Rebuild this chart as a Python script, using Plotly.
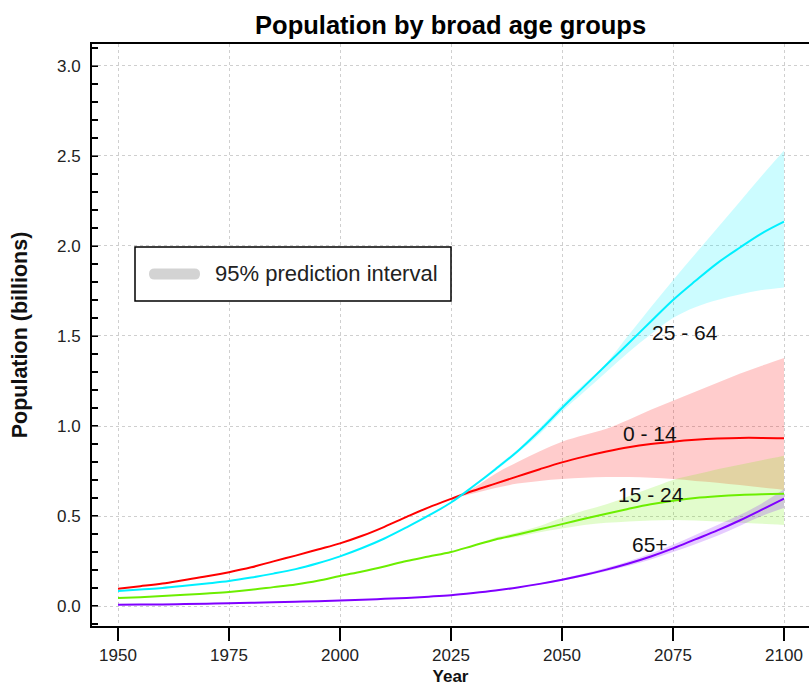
import plotly.graph_objects as go

# ---- data (billions) ----
years = [1950, 1955, 1960, 1965, 1970, 1975, 1980, 1985, 1990, 1995,
         2000, 2005, 2010, 2015, 2020, 2025, 2030, 2035, 2040, 2045,
         2050, 2055, 2060, 2065, 2070, 2075, 2080, 2085, 2090, 2095, 2100]

age_0_14 = [0.096, 0.110, 0.125, 0.145, 0.165, 0.188, 0.215, 0.248, 0.280, 0.314,
            0.348, 0.390, 0.440, 0.495, 0.548, 0.595, 0.640, 0.680, 0.720, 0.760,
            0.798, 0.830, 0.858, 0.882, 0.900, 0.913, 0.923, 0.930, 0.934, 0.934, 0.932]
age_25_64 = [0.083, 0.092, 0.100, 0.112, 0.125, 0.139, 0.158, 0.180, 0.205, 0.238,
             0.276, 0.322, 0.375, 0.437, 0.503, 0.575, 0.665, 0.760, 0.860, 0.975,
             1.100, 1.220, 1.340, 1.460, 1.580, 1.700, 1.805, 1.905, 1.990, 2.070, 2.135]
age_15_24 = [0.044, 0.049, 0.055, 0.062, 0.070, 0.078, 0.090, 0.105, 0.120, 0.140,
             0.167, 0.192, 0.220, 0.250, 0.275, 0.300, 0.335, 0.370, 0.397, 0.426,
             0.455, 0.485, 0.513, 0.540, 0.565, 0.585, 0.600, 0.610, 0.617, 0.621, 0.623]
age_65p = [0.007, 0.008, 0.009, 0.011, 0.013, 0.015, 0.018, 0.021, 0.024, 0.027,
           0.031, 0.035, 0.040, 0.045, 0.052, 0.060, 0.072, 0.086, 0.103, 0.123,
           0.146, 0.172, 0.202, 0.236, 0.275, 0.320, 0.370, 0.420, 0.475, 0.535, 0.597]

# 95% prediction intervals (projection years only)
pi_years = [2025, 2030, 2035, 2040, 2045, 2050, 2055, 2060, 2065, 2070,
            2075, 2080, 2085, 2090, 2095, 2100]
lo_0_14 = [0.595, 0.625, 0.655, 0.680, 0.695, 0.705, 0.712, 0.716, 0.716, 0.712,
           0.705, 0.695, 0.685, 0.672, 0.658, 0.645]
hi_0_14 = [0.595, 0.655, 0.735, 0.800, 0.860, 0.913, 0.950, 0.985, 1.035, 1.090,
           1.140, 1.190, 1.240, 1.290, 1.335, 1.378]
lo_25_64 = [0.575, 0.660, 0.750, 0.850, 0.955, 1.080, 1.190, 1.300, 1.410, 1.510,
            1.600, 1.660, 1.700, 1.730, 1.755, 1.770]
hi_25_64 = [0.575, 0.670, 0.770, 0.870, 0.990, 1.120, 1.235, 1.350, 1.505, 1.660,
            1.810, 1.955, 2.100, 2.245, 2.390, 2.530]
lo_15_24 = [0.300, 0.335, 0.365, 0.385, 0.410, 0.430, 0.450, 0.462, 0.470, 0.475,
            0.478, 0.475, 0.470, 0.463, 0.457, 0.450]
hi_15_24 = [0.300, 0.335, 0.380, 0.410, 0.445, 0.490, 0.530, 0.565, 0.610, 0.655,
            0.700, 0.730, 0.760, 0.785, 0.810, 0.835]
lo_65p = [0.060, 0.071, 0.085, 0.101, 0.120, 0.141, 0.165, 0.193, 0.224, 0.259,
          0.300, 0.343, 0.390, 0.445, 0.500, 0.545]
hi_65p = [0.060, 0.073, 0.088, 0.106, 0.127, 0.152, 0.180, 0.212, 0.249, 0.292,
          0.340, 0.395, 0.450, 0.505, 0.570, 0.648]

groups = [
    ("0 - 14", age_0_14, lo_0_14, hi_0_14, "#FF0000", "rgba(255,0,0,0.2)", 2069.8, 0.957),
    ("25 - 64", age_25_64, lo_25_64, hi_25_64, "#00F0FF", "rgba(0,240,255,0.2)", 2077.6, 1.517),
    ("15 - 24", age_15_24, lo_15_24, hi_15_24, "#6CEE00", "rgba(108,238,0,0.2)", 2070.0, 0.622),
    ("65+", age_65p, lo_65p, hi_65p, "#8000FF", "rgba(128,0,255,0.2)", 2069.8, 0.339),
]

FONT = "Liberation Sans, Arial, sans-serif"

# plot-area geometry in pixels (used to place the legend box in paper units)
W, H = 809, 686
ML, MR, MT, MB = 92, 0, 44, 60
PW, PH = W - ML - MR, H - MT - MB


def px(xp):
    return (xp - ML) / PW


def py(yp):
    return (H - MB - yp) / PH


fig = go.Figure()

# interval bands
for name, mid, lo, hi, col, fill, lx, ly in groups:
    fig.add_trace(go.Scatter(x=pi_years, y=lo, mode="lines",
                             line=dict(width=0, shape="spline"),
                             hoverinfo="skip", showlegend=False))
    fig.add_trace(go.Scatter(x=pi_years, y=hi, mode="lines", fill="tonexty",
                             fillcolor=fill, line=dict(width=0, shape="spline"),
                             hoverinfo="skip", showlegend=False))

# median lines
for name, mid, lo, hi, col, fill, lx, ly in groups:
    fig.add_trace(go.Scatter(x=years, y=mid, mode="lines", name=name,
                             line=dict(color=col, width=2, shape="spline"),
                             showlegend=False))

# group labels
for name, mid, lo, hi, col, fill, lx, ly in groups:
    fig.add_annotation(x=lx, y=ly, text=name, showarrow=False,
                       font=dict(family=FONT, size=21, color="#111"),
                       xanchor="center", yanchor="middle")

# legend box for the prediction interval
fig.add_shape(type="rect", xref="paper", yref="paper",
              x0=px(135), x1=px(451), y0=py(301), y1=py(247),
              line=dict(color="#000", width=1.5), fillcolor="white", layer="above")
x0, x1, yc, r = 149, 200, 274, 5.5
rx, ry = r / PW, r / PH
path = (f"M {px(x0)+rx},{py(yc)+ry} L {px(x1)-rx},{py(yc)+ry} "
        f"Q {px(x1)},{py(yc)+ry} {px(x1)},{py(yc)} "
        f"Q {px(x1)},{py(yc)-ry} {px(x1)-rx},{py(yc)-ry} "
        f"L {px(x0)+rx},{py(yc)-ry} "
        f"Q {px(x0)},{py(yc)-ry} {px(x0)},{py(yc)} "
        f"Q {px(x0)},{py(yc)+ry} {px(x0)+rx},{py(yc)+ry} Z")
fig.add_shape(type="path", xref="paper", yref="paper", path=path,
              fillcolor="#D3D3D3", line=dict(width=0), layer="above")
fig.add_annotation(xref="paper", yref="paper", x=px(213), y=py(273),
                   text="95% prediction interval", showarrow=False,
                   xanchor="left", yanchor="middle",
                   font=dict(family=FONT, size=22, color="#222"))

fig.update_layout(
    width=W, height=H,
    margin=dict(l=ML, r=MR, t=MT, b=MB),
    paper_bgcolor="white", plot_bgcolor="white",
    title=dict(text="<b>Population by broad age groups</b>",
               x=0.557, xanchor="center", y=0.963, yanchor="middle",
               font=dict(family=FONT, size=25.5, color="#000")),
    font=dict(family=FONT, color="#222"),
    showlegend=False,
)

fig.update_xaxes(
    range=[1944.14, 2105.63], tickvals=[1950, 1975, 2000, 2025, 2050, 2075, 2100],
    showgrid=True, gridcolor="#CFCFCF", griddash="3px,3px", gridwidth=1,
    showline=True, linecolor="#000", linewidth=2, mirror=True,
    ticks="outside", ticklen=13, tickwidth=1.5, tickcolor="#000",
    tickfont=dict(family=FONT, size=17, color="#222"),
    title=dict(text="<b>Year</b>", font=dict(family=FONT, size=17, color="#111"),
               standoff=9),
    zeroline=False,
)
fig.update_yaxes(
    range=[-0.111, 3.122], tickvals=[0, 0.5, 1.0, 1.5, 2.0, 2.5, 3.0],
    ticktext=["0.0", "0.5", "1.0", "1.5", "2.0", "2.5", "3.0"],
    showgrid=True, gridcolor="#CFCFCF", griddash="3px,3px", gridwidth=1,
    showline=True, linecolor="#000", linewidth=2, mirror=False,
    ticks="inside", ticklen=6, tickwidth=1, tickcolor="#666",
    minor=dict(dtick=0.1, ticks="inside", ticklen=6, tickwidth=1.5,
               tickcolor="#000", showgrid=False),
    tickfont=dict(family=FONT, size=17, color="#222"),
    ticklabelstandoff=6,
    title=dict(text="<b>Population (billions)</b>",
               font=dict(family=FONT, size=21.5, color="#111"), standoff=23),
    zeroline=False,
)

fig.write_html("out.html")
